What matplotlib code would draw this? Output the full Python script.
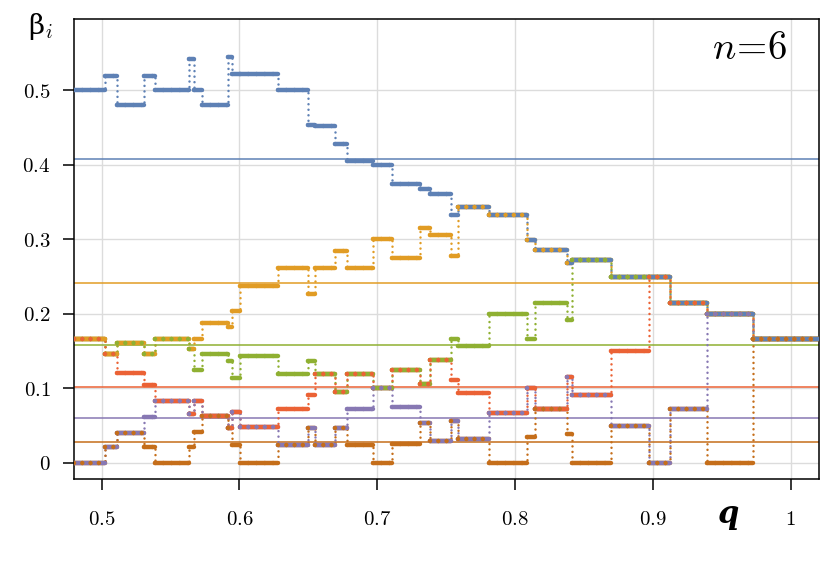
import numpy as np
import matplotlib
matplotlib.use("Agg")
import matplotlib.pyplot as plt

plt.rcParams["mathtext.fontset"] = "cm"
plt.rcParams["font.family"] = ["DejaVu Serif"]

# ---------------------------------------------------
# Step edges in q and the value of each beta_i on every interval

edges = [0.48, 0.5025, 0.511, 0.5304, 0.5389, 0.5635, 0.5667, 0.5727, 0.5918,
         0.5943, 0.6003, 0.6277, 0.6499, 0.6548, 0.669, 0.678, 0.697, 0.711,
         0.731, 0.738, 0.7533, 0.7584, 0.7813, 0.8085, 0.8145, 0.8374, 0.8416,
         0.8697, 0.8973, 0.9125, 0.9391, 0.9725, 1.02]

beta1 = [0.5, 0.52, 0.48, 0.52, 0.5, 0.5426, 0.5, 0.48, 0.5449, 0.5224, 0.5224,
         0.5, 0.4539, 0.4516, 0.428, 0.4046, 0.3992, 0.3746, 0.3679, 0.3607,
         0.333, 0.3432, 0.333, 0.2993, 0.2855, 0.2688, 0.2724, 0.2496, 0.2496,
         0.2146, 0.2, 0.1667]
beta2 = [0.1667, 0.1456, 0.1601, 0.1456, 0.1663, 0.1524, 0.1663, 0.1873, 0.1819,
         0.2043, 0.2379, 0.2612, 0.2267, 0.2612, 0.2849, 0.2621, 0.2998, 0.2747,
         0.3155, 0.3052, 0.2778, 0.3432, 0.333, 0.2993, 0.2855, 0.2688, 0.2724,
         0.2496, 0.2496, 0.2146, 0.2, 0.1667]
beta3 = [0.1667, 0.1456, 0.1601, 0.1456, 0.1663, 0.1524, 0.1246, 0.1457, 0.1367,
         0.1135, 0.1434, 0.1192, 0.1367, 0.1192, 0.0955, 0.1192, 0.1, 0.1246,
         0.1054, 0.1375, 0.1663, 0.1569, 0.2, 0.1663, 0.2142, 0.1918, 0.2724,
         0.2496, 0.2496, 0.2146, 0.2, 0.1667]
beta4 = [0.1667, 0.1456, 0.1201, 0.1045, 0.0834, 0.0649, 0.0834, 0.0628, 0.0461,
         0.0686, 0.0475, 0.0717, 0.091, 0.1192, 0.0955, 0.1192, 0.1, 0.1246,
         0.1054, 0.1375, 0.1111, 0.0941, 0.0672, 0.1, 0.0717, 0.1156, 0.091,
         0.1497, 0.2496, 0.2146, 0.2, 0.1667]
beta5 = [0.0, 0.0215, 0.0404, 0.0618, 0.0834, 0.0649, 0.0834, 0.0628, 0.0461,
         0.0686, 0.0475, 0.0238, 0.0461, 0.0238, 0.0471, 0.0717, 0.1, 0.0745,
         0.0529, 0.0295, 0.0561, 0.0314, 0.0672, 0.1, 0.0717, 0.1156, 0.091,
         0.0497, 0.0, 0.0717, 0.2, 0.1667]
beta6 = [0.0, 0.0215, 0.0404, 0.0215, 0.0, 0.0215, 0.0418, 0.0628, 0.0461,
         0.0238, 0.0, 0.0238, 0.0461, 0.0238, 0.0471, 0.0238, 0.0, 0.0252,
         0.0529, 0.0295, 0.0561, 0.0314, 0.0, 0.0341, 0.0717, 0.0385, 0.0,
         0.0497, 0.0, 0.0717, 0.0, 0.1667]

# averages drawn as thin reference lines
means = [0.4078, 0.2411, 0.1586, 0.1022, 0.0605, 0.0274]

colors = ["#5E81B5", "#E19C24", "#8FB032", "#EB6235", "#8778B3", "#C56E1A"]
series = [beta1, beta2, beta3, beta4, beta5, beta6]

xticks = [0.5, 0.6, 0.7, 0.8, 0.9, 1.0]
xtick_labels = ["0.5", "0.6", "0.7", "0.8", "0.9", "1"]
yticks = [0, 0.1, 0.2, 0.3, 0.4, 0.5]
ytick_labels = ["0", "0.1", "0.2", "0.3", "0.4", "0.5"]

# ---------------------------------------------------
# Plot

fig = plt.figure(figsize=(8.3, 5.62), dpi=100)
ax = fig.add_axes([0.0892, 0.1477, 0.8976, 0.8185])

ax.set_xlim(0.48, 1.0205)
ax.set_ylim(-0.022, 0.596)

for x in xticks:
    ax.axvline(x, color="#dcdcdc", lw=1.0, zorder=0)
for y in yticks:
    ax.axhline(y, color="#dcdcdc", lw=1.0, zorder=0)

for m, c in zip(means, colors):
    ax.axhline(m, color=c, lw=1.1, zorder=1)

x0 = np.array(edges[:-1])
x1 = np.array(edges[1:])

# dotted risers between the steps
for vals, c in zip(series, colors):
    st = ax.stairs(vals, edges, baseline=None, color=c, lw=1.8,
                   linestyle=(0, (0.01, 2.2)), zorder=2)
    st.set_capstyle("round")

# thick solid treads, first series ends up on top
for vals, c in list(zip(series, colors))[::-1]:
    lc = ax.hlines(vals, x0, x1, colors=c, lw=3.2, zorder=3)
    lc.set_capstyle("round")

# dots so that hidden coinciding series still show through
for vals, c in zip(series, colors):
    lc = ax.hlines(vals, x0, x1, colors=c, lw=3.2,
                   linestyles=[(0, (0.01, 1.85))], zorder=4)
    lc.set_capstyle("round")

ax.set_xticks(xticks)
ax.set_xticklabels(["$" + t + "$" for t in xtick_labels])
ax.set_yticks(yticks)
ax.set_yticklabels(["$" + t + "$" for t in ytick_labels])
ax.tick_params(axis="both", direction="out", length=8, width=1.1,
               labelsize=15, top=False, right=False)
ax.tick_params(axis="x", pad=14)
ax.tick_params(axis="y", pad=9)
for sp in ax.spines.values():
    sp.set_linewidth(1.1)

ax.text(0.958, 0.935, r"$n\!=\!6$", transform=ax.transAxes, ha="right",
        va="center", fontsize=28)
fig.text(40 / 830, 1 - 27 / 562, r"β$_{i}$", ha="center", va="center",
         fontsize=20)
fig.text(728 / 830, 1 - 515 / 562, "q", ha="center", va="center",
         fontsize=22, fontweight="bold", fontstyle="italic")

plt.savefig("out.png", dpi=100)
